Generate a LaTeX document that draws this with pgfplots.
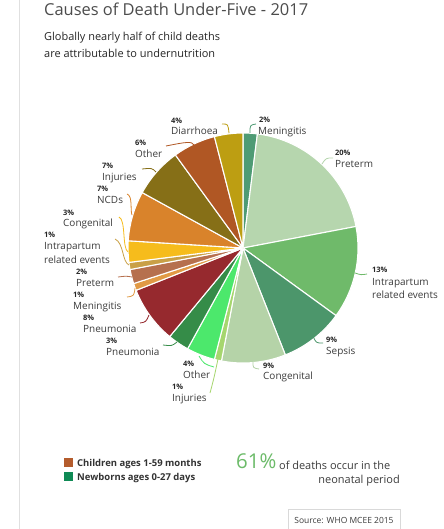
\documentclass[border=0pt]{standalone}
\usepackage{pgfplots}
\pgfplotsset{compat=1.18}
\usepackage{pgfplotstable}
\usepackage{fontspec}
\setmainfont{Open Sans}

% neonatal (greens)
\definecolor{nMen}{HTML}{4E9B74}
\definecolor{nPre}{HTML}{B6D6AE}
\definecolor{nInt}{HTML}{6FBA6A}
\definecolor{nSep}{HTML}{4C966B}
\definecolor{nCon}{HTML}{B5D3A8}
\definecolor{nInj}{HTML}{A6D66E}
\definecolor{nOth}{HTML}{4CE86C}
\definecolor{nPne}{HTML}{358C48}
% children 1-59 months (warm)
\definecolor{cPne}{HTML}{96292E}
\definecolor{cMen}{HTML}{E19A45}
\definecolor{cPre}{HTML}{B6704E}
\definecolor{cInt}{HTML}{C9A046}
\definecolor{cCon}{HTML}{F6BC1C}
\definecolor{cNcd}{HTML}{D9832B}
\definecolor{cInj}{HTML}{866F17}
\definecolor{cOth}{HTML}{B05724}
\definecolor{cDia}{HTML}{BD9E12}
\definecolor{txt}{HTML}{3C3C3C}
\definecolor{legBrown}{HTML}{B45C2D}
\definecolor{legGreen}{HTML}{0F8A55}
\definecolor{bigGreen}{HTML}{6CBB69}

% clockwise from 12 o'clock
\pgfplotstableread{
value col
2  nMen
20 nPre
13 nInt
9  nSep
9  nCon
1  nInj
4  nOth
3  nPne
8  cPne
1  cMen
2  cPre
1  cInt
3  cCon
7  cNcd
7  cInj
6  cOth
4  cDia
}\piedata

\begin{document}
\begin{tikzpicture}[x=1bp,y=1bp]
\useasboundingbox (0,0) rectangle (444,-529);
\fill[white] (0,0) rectangle (444,-529);
\draw[black!12, line width=1bp] (19,0) -- (19,-529);

% title block
\node[anchor=mid west, inner sep=0, text=black!70, font=\fontsize{16.5}{18}\selectfont] at (44,-13) {Causes of Death Under-Five - 2017};
\node[anchor=mid west, inner sep=0, text=black!85, font=\fontsize{11}{13}\selectfont] at (44,-38) {Globally nearly half of child deaths};
\node[anchor=mid west, inner sep=0, text=black!85, font=\fontsize{11}{13}\selectfont] at (44,-55) {are attributable to undernutrition};

\begin{axis}[at={(243bp,-248bp)}, anchor=center, x=115bp, y=115bp,
  xmin=-1, xmax=1, ymin=-1, ymax=1, hide axis, clip=false]
\pgfmathsetmacro\cum{0}
\pgfplotsforeachungrouped \i in {0,...,16}{
  \pgfplotstablegetelem{\i}{value}\of\piedata \let\v=\pgfplotsretval
  \pgfplotstablegetelem{\i}{col}\of\piedata \let\c=\pgfplotsretval
  \pgfmathsetmacro\aA{90-3.6*\cum}
  \pgfmathsetmacro\cum{\cum+\v}
  \pgfmathsetmacro\aB{90-3.6*\cum}
  \edef\temp{\noexpand\filldraw[fill=\c, draw=white, line width=1.1bp, line join=round]
    (axis cs:0,0) -- (axis cs:{cos(\aA)},{sin(\aA)})
    arc[start angle=\aA, end angle=\aB, radius=115bp] -- cycle;}
  \temp
}
\end{axis}

% slice labels
\tikzset{pct/.style={anchor=mid west, inner sep=0, text=black!85, font=\fontsize{7.5}{9}\bfseries},
         lab/.style={anchor=mid west, inner sep=0, text=txt, font=\fontsize{10}{12}\selectfont},
         lead/.style={line width=0.8bp}}
% left (children) side
\node[pct] at (171,-121) {4\%};  \node[lab] at (171,-132) {Diarrhoea};
\node[pct] at (135,-143) {6\%};  \node[lab] at (135,-155) {Other};
\node[pct] at (102,-166) {7\%};  \node[lab] at (102,-178) {Injuries};
\node[pct] at (97,-189)  {7\%};  \node[lab] at (97,-201)  {NCDs};
\node[pct] at (63,-213)  {3\%};  \node[lab] at (63,-224)  {Congenital};
\node[pct] at (44,-235)  {1\%};  \node[lab] at (44,-247)  {Intrapartum};
                                 \node[lab] at (44,-261)  {related events};
\node[pct] at (76,-272)  {2\%};  \node[lab] at (76,-284)  {Preterm};
\node[pct] at (73,-295)  {1\%};  \node[lab] at (73,-307)  {Meningitis};
\node[pct] at (83,-318)  {8\%};  \node[lab] at (83,-330)  {Pneumonia};
\node[pct] at (106,-341) {3\%};  \node[lab] at (106,-353) {Pneumonia};
\node[pct] at (183,-364) {4\%};  \node[lab] at (183,-376) {Other};
\node[pct] at (172,-387) {1\%};  \node[lab] at (172,-399) {Injuries};
% right (newborn) side
\node[pct] at (259,-120) {2\%};  \node[lab] at (258,-132) {Meningitis};
\node[pct] at (335,-153) {20\%}; \node[lab] at (335,-165) {Preterm};
\node[pct] at (372,-270) {13\%}; \node[lab] at (372,-283) {Intrapartum};
                                 \node[lab] at (372,-296) {related events};
\node[pct] at (326,-340) {9\%};  \node[lab] at (326,-352) {Sepsis};
\node[pct] at (263,-366) {9\%};  \node[lab] at (263,-377) {Congenital};

% leader lines
\draw[lead, cDia] (222,-124) .. controls (228,-124) .. (229,-133);
\draw[lead, nMen] (250,-133) .. controls (250,-125) .. (256,-124);
\draw[lead, cOth] (166,-146) .. controls (186,-142) and (192,-141) .. (194,-145);
\draw[lead, cInj] (142,-169) .. controls (152,-168) .. (156,-172);
\draw[lead, cNcd] (127,-194) .. controls (133,-196) and (130,-210) .. (132,-215);
\draw[lead, cCon] (119,-217) .. controls (126,-220) and (122,-248) .. (128,-252);
\draw[lead, cInt] (115,-239) .. controls (124,-243) and (122,-262) .. (129,-265);
\draw[lead, cPre] (118,-277) .. controls (126,-276) .. (132,-277);
\draw[lead, cMen] (127,-297) .. controls (134,-296) .. (135,-288);
\draw[lead, cPne] (140,-323) .. controls (146,-322) .. (149,-315);
\draw[lead, nPne] (163,-345) .. controls (172,-346) .. (177,-342);
\draw[lead, nOth] (199,-356) .. controls (204,-364) .. (214,-367);
\draw[lead, nInj] (218,-359) .. controls (214,-378) .. (210,-393);
\draw[lead, nPre] (322,-164) .. controls (326,-158) .. (333,-158);
\draw[lead, nInt] (355,-273) .. controls (361,-275) .. (367,-274);
\draw[lead, nSep] (313,-336) .. controls (316,-343) .. (323,-343);
\draw[lead, nCon] (253,-362) .. controls (253,-368) .. (259,-369);

% legend
\fill[legBrown] (64,-458) rectangle (73,-467);
\fill[legGreen] (64,-472) rectangle (73,-481);
\node[anchor=mid west, inner sep=0, text=black!80, font=\fontsize{9.5}{11}\bfseries] at (77,-464) {Children ages 1-59 months};
\node[anchor=mid west, inner sep=0, text=black!80, font=\fontsize{9.5}{11}\bfseries] at (77,-478) {Newborns ages 0-27 days};

% neonatal share note
\node[anchor=mid west, inner sep=0, text=bigGreen, font=\fontsize{20.5}{22}\selectfont] at (236,-465.5) {61\%};
\node[anchor=mid west, inner sep=0, text=txt, font=\fontsize{11}{13}\selectfont] at (279,-467) {of deaths occur in the};
\node[anchor=mid east, inner sep=0, text=txt, font=\fontsize{11}{13}\selectfont] at (400,-481) {neonatal period};

% source box
\draw[black!15, line width=0.8bp] (288,-531) -- (288,-509) -- (400,-509) -- (400,-531);
\node[inner sep=0, text=txt, font=\fontsize{8.5}{10}\selectfont] at (344,-520) {Source: WHO MCEE 2015};
\end{tikzpicture}
\end{document}
